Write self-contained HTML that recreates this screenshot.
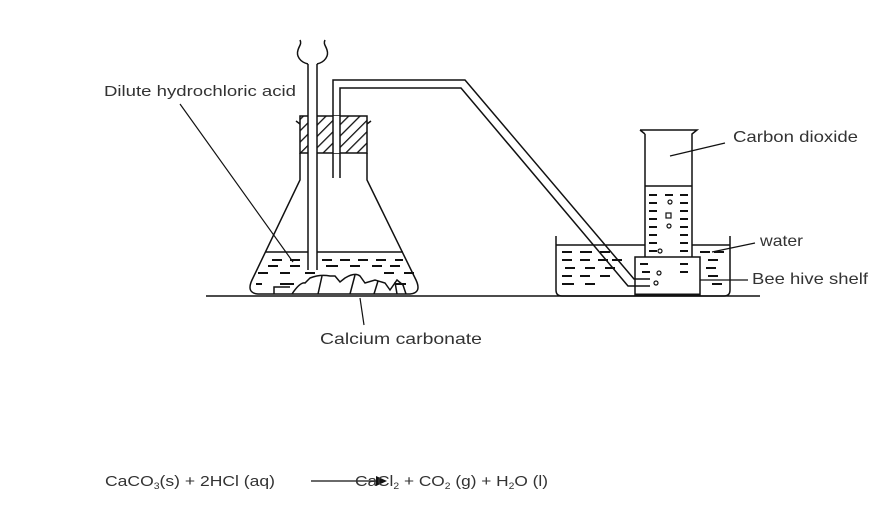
<!DOCTYPE html>
<html><head><meta charset="utf-8"><style>
html,body{margin:0;padding:0;background:#fff;}
svg{display:block;}
text{font-family:"Liberation Sans",sans-serif;fill:#333;}
</style></head><body>
<svg width="894" height="508" viewBox="0 0 894 508" xmlns="http://www.w3.org/2000/svg">
<defs>
<pattern id="hatch" width="8" height="8" patternUnits="userSpaceOnUse" patternTransform="rotate(45)">
<rect width="8" height="8" fill="#fff"/><line x1="0" y1="0" x2="0" y2="8" stroke="#111" stroke-width="2.6"/>
</pattern>
</defs>
<g stroke="#111" stroke-width="1.5" fill="none">
<line x1="206" y1="296" x2="760" y2="296"/>
<path d="M300,153 L300,180 L252,280 Q246,293 258,294 L410,294 Q422,293 416,280 L367,180 L367,153"/>
<line x1="265" y1="252" x2="403" y2="252"/>
<rect x="300" y="116" width="67" height="37" fill="url(#hatch)"/>
<path d="M300,124 l-4,-3 M367,124 l4,-3"/>
<rect x="308" y="64" width="9" height="206" fill="#fff" stroke="none"/>
<path d="M308,64 L308,270 M317,64 L317,270"/>
<path d="M308,64 C300,62 296,56 298,50 C299,46 302,44 300,40 M317,64 C325,62 329,56 327,50 C326,46 323,44 325,40"/>
<rect x="333" y="116" width="7" height="37" fill="#fff" stroke="none"/>
<path d="M333,178 L333,80 L465,80 L634,279 L650,279" />
<path d="M340,178 L340,88 L461,88 L628,286 L650,286" />
<g stroke-width="2">
<path d="M272,260h10M290,260h10M322,260h10M340,260h10M358,260h10M376,260h10M395,260h8
M268,266h10M290,266h10M326,266h12M350,266h10M372,266h10M390,266h10
M258,273h10M280,273h10M305,273h10M384,273h10M404,273h10
M256,284h6M280,284h14M396,284h10"/>
</g>
<path d="M274,294 L274,287 L290,287 M292,294 Q300,282 305,283 L310,278 Q320,274 330,276 L335,276 L340,282 L345,278 Q355,272 360,276 L365,283 L375,280 L385,283 L390,290 L397,280 L403,285 L406,294"/>
<path d="M322,276 L318,294 M355,275 L350,294 M378,281 L374,294 M395,282 L397,294"/>
<path d="M556,236 L556,290 Q556,296 562,296 L724,296 Q730,296 730,290 L730,236"/>
<line x1="556" y1="245" x2="645" y2="245"/>
<line x1="692" y1="245" x2="730" y2="245"/>
<path d="M640,130 L697,130 L692,134 L692,257 M645,134 L645,257 M640,130 L645,134"/>
<line x1="645" y1="186" x2="692" y2="186"/>
<rect x="635" y="257" width="65" height="38" fill="none"/>
<line x1="635" y1="295" x2="700" y2="295" stroke-width="3"/>
<g stroke-width="2">
<path d="M649,195h8M665,195h8M680,195h8M649,203h8M680,203h8M649,211h8M680,211h8M649,219h8M680,219h8M649,227h8M680,227h8M649,235h8M680,235h8M649,243h8M680,243h8M649,251h8M680,251h8
M562,252h10M580,252h12M600,252h10M700,252h10M714,252h10
M562,260h10M580,260h10M598,260h10M612,260h10M640,264h8M680,264h8M708,260h10
M565,268h10M585,268h10M605,268h10M642,272h8M680,272h8M706,268h10
M562,276h10M580,276h10M600,276h10M708,276h10M712,284h10M562,284h12M585,284h10"/>
</g>
<g stroke-width="1.2">
<circle cx="670" cy="202" r="2"/><circle cx="669" cy="226" r="2"/><circle cx="660" cy="251" r="2"/><circle cx="659" cy="273" r="2"/><circle cx="656" cy="283" r="2"/>
<rect x="666" y="213" width="5" height="5"/>
</g>
<line x1="180" y1="104" x2="293" y2="262" stroke-width="1.2"/>
<line x1="670" y1="156" x2="725" y2="143" stroke-width="1.2"/>
<line x1="712" y1="252" x2="755" y2="243" stroke-width="1.2"/>
<line x1="700" y1="280" x2="748" y2="280" stroke-width="1.2"/>
<line x1="360" y1="298" x2="364" y2="325" stroke-width="1.2"/>
<line x1="311" y1="481" x2="380" y2="481" stroke-width="1.2"/>
</g>
<polygon points="376,476 387,481 376,486" fill="#111"/>
<text x="104" y="96" font-size="15" textLength="192" lengthAdjust="spacingAndGlyphs">Dilute hydrochloric acid</text>
<text x="733" y="142" font-size="16" textLength="125" lengthAdjust="spacingAndGlyphs">Carbon dioxide</text>
<text x="760" y="246" font-size="16" textLength="43" lengthAdjust="spacingAndGlyphs">water</text>
<text x="752" y="284" font-size="16" textLength="116" lengthAdjust="spacingAndGlyphs">Bee hive shelf</text>
<text x="320" y="344" font-size="16" textLength="162" lengthAdjust="spacingAndGlyphs">Calcium carbonate</text>
<text x="105" y="486" font-size="15" textLength="170" lengthAdjust="spacingAndGlyphs">CaCO<tspan font-size="9" dy="3">3</tspan><tspan dy="-3">(s) + 2HCl (aq)</tspan></text>
<text x="355" y="486" font-size="15" textLength="193" lengthAdjust="spacingAndGlyphs">CaCl<tspan font-size="9" dy="3">2</tspan><tspan dy="-3"> + CO</tspan><tspan font-size="9" dy="3">2</tspan><tspan dy="-3"> (g) + H</tspan><tspan font-size="9" dy="3">2</tspan><tspan dy="-3">O (l)</tspan></text>
</svg>
</body></html>
